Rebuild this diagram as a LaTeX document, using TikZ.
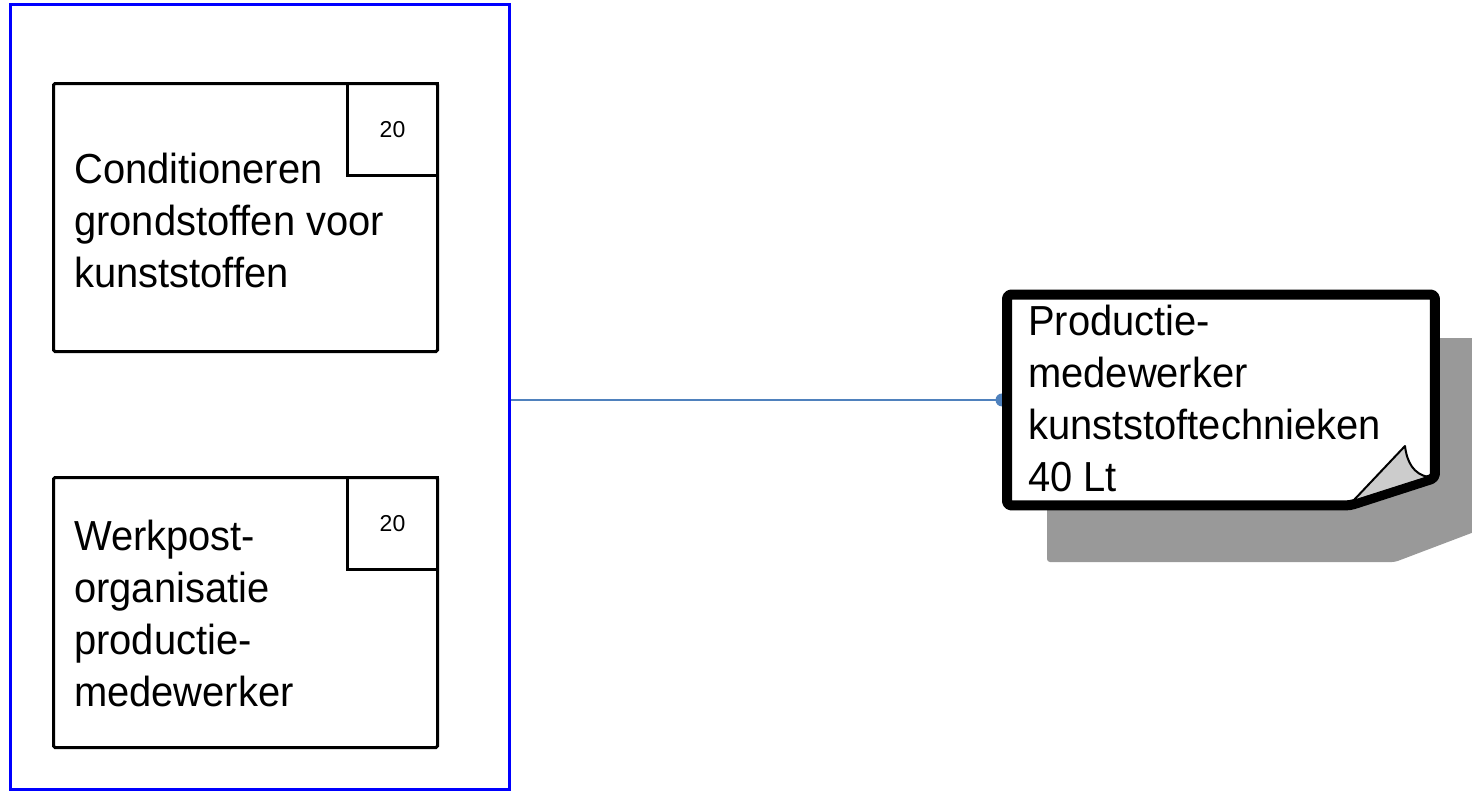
\documentclass[tikz,border=0pt]{standalone}
\usepackage{fontspec}
\setmainfont{Liberation Sans}
\newfontfamily\labelfont[FakeStretch=0.95]{Liberation Sans}
\usetikzlibrary{calc}
\definecolor{lanecol}{RGB}{0,0,255}
\definecolor{linkcol}{RGB}{79,129,189}
\definecolor{shadowcol}{RGB}{153,153,153}
\definecolor{foldcol}{RGB}{204,204,204}
\begin{document}
\begin{tikzpicture}[x=1pt,y=-1pt,
 lane/.style={draw=lanecol, line width=3pt, minimum width=499pt, minimum height=784pt, inner sep=0pt},
 actbox/.style={draw=black, line width=3pt, rounded corners=1.5pt, inner sep=0pt, anchor=north west, minimum width=384pt},
 numbox/.style={draw=black, line width=3pt, inner sep=0pt, minimum width=90pt, minimum height=92pt, anchor=north east, font=\fontsize{23}{28}\selectfont},
 bigtext/.style={font=\labelfont\fontsize{42}{52}\selectfont, align=left, inner sep=0pt, anchor=north west},
 notebox/.style={inner sep=0pt, minimum width=427.5pt, minimum height=210.5pt, anchor=north west},
 link/.style={draw=linkcol, line width=1.2pt},
]
\useasboundingbox (0,0) rectangle (1472,792);
% swimlane frame
\node[lane] (lane) at (259.5,397) {};
% activity boxes
\node[actbox, minimum height=268pt] (act1) at (52,82) {};
\node[numbox] (num1) at (act1.north east) {20};
\node[bigtext] (t1) at (74,153) {Conditioneren\\grondstoffen voor\\kunststoffen};
\node[actbox, minimum height=270pt] (act2) at (52,476) {};
\node[numbox] (num2) at (act2.north east) {20};
\node[bigtext] (t2) at (74,519.5) {Werkpost-\\organisatie\\productie-\\medewerker};
% note anchor box
\node[notebox] (note) at (1007,294.5) {};
% shadow
\fill[shadowcol, rounded corners=3pt] (1047,338) -- (1490,338) -- (1490,526) -- (1395,562) -- (1047,562) -- cycle;
% connector
\coordinate (linkend) at ($(note.west)+(-5,0)$);
\draw[link] (lane.east |- note.west) -- (linkend);
\fill[linkcol] (linkend) circle (6.5pt);
% note outline
\draw[line width=10pt, fill=white, rounded corners=4pt, line join=round]
  (note.north west) -- (note.north east) -- ($(note.north east)+(0,183.5)$)
  -- ($(note.south west)+(343,0)$) -- (note.south west) -- cycle;
% folded corner
\draw[fill=foldcol, line width=2pt, line join=round]
  (1353,501) -- (1405,446) .. controls (1407,463) and (1414,474) .. (1428,477) -- cycle;
\node[bigtext] (notetext) at (1028,304.5) {Productie-\\medewerker\\kunststoftechnieken\\40 Lt};
\end{tikzpicture}
\end{document}
